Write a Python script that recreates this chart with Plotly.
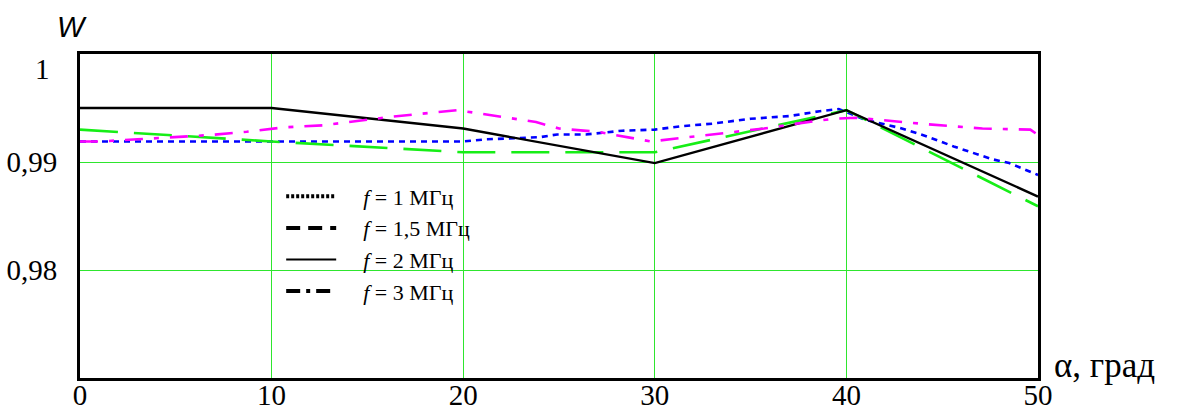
import plotly.graph_objects as go

# ---- data ----
alpha_f1 = [0, 10, 20, 21.2, 24, 24.9, 26.4, 28.3, 30, 31.3, 33, 35, 37, 38.6, 39.6, 41, 42.8, 44.2, 45.6, 47.6, 48.5, 50]
w_f1 = [0.9919, 0.9919, 0.9919, 0.9921, 0.9923, 0.99255, 0.99255, 0.9929, 0.9930, 0.9933, 0.99355, 0.9940, 0.99425, 0.9947, 0.9949,
        0.9939, 0.99315, 0.99237, 0.99144, 0.99026, 0.9899, 0.9888]

alpha_f15 = [0, 10, 20, 30, 40, 50]
w_f15 = [0.9930, 0.9919, 0.9909, 0.9909, 0.9948, 0.9859]

alpha_f2 = [0, 10, 20, 30, 40, 50]
w_f2 = [0.9950, 0.9950, 0.9931, 0.9899, 0.9948, 0.9868]

alpha_f3 = [0, 1, 3, 4.9, 6.8, 8.7, 10.6, 12.7, 14.6, 16.3, 19.7, 21.2, 23.8, 25, 27, 29.8, 33.6, 35.7, 37.6, 39.3,
            40.5, 42.2, 44.2, 47.1, 49.6, 50]
w_f3 = [0.9919, 0.9919, 0.9921, 0.9923, 0.9925, 0.9928, 0.9932, 0.9934, 0.9938, 0.9942, 0.9948, 0.9944, 0.9937, 0.9931,
        0.9928, 0.9919, 0.9927, 0.9931, 0.9936, 0.9940, 0.9941, 0.9938, 0.9935, 0.9931, 0.9930, 0.9925]

series_names = ["<i>f</i> = 1 МГц", "<i>f</i> = 1,5 МГц", "<i>f</i> = 2 МГц", "<i>f</i> = 3 МГц"]

x_ticks = [0, 10, 20, 30, 40, 50]
x_ticktext = ["0", "10", "20", "30", "40", "50"]
y_ticks = [0.98, 0.99]
y_ticktext = ["0,98", "0,99"]
y_top_label = "1"

SERIF = "Liberation Serif"
GRID = "#2ee62e"
PAD = "\u00a0\u00a0\u00a0\u00a0"

fig = go.Figure()

data_styles = [
    dict(color="#0000ff", width=2.6, dash="6px,5px"),
    dict(color="#16ee16", width=2.6, dash="38px,16px"),
    dict(color="#000000", width=2.4, dash="solid"),
    dict(color="#ff00ff", width=2.6, dash="18px,11px,5px,11px"),
]
xs = [alpha_f1, alpha_f15, alpha_f2, alpha_f3]
ys = [w_f1, w_f15, w_f2, w_f3]
for x, y, st in zip(xs, ys, data_styles):
    fig.add_trace(go.Scatter(x=x, y=y, mode="lines", line=st, showlegend=False, hoverinfo="skip"))

# legend entries (black samples as in the reference)
legend_styles = [
    dict(color="black", width=4, dash="3px,2px"),
    dict(color="black", width=4, dash="14px,8px"),
    dict(color="black", width=2, dash="solid"),
    dict(color="black", width=4, dash="14px,6px,4px,6px"),
]
for name, st in zip(series_names, legend_styles):
    fig.add_trace(go.Scatter(x=[None], y=[None], mode="lines", line=st, name=PAD + name, showlegend=True))

fig.update_layout(
    width=1180, height=414,
    margin=dict(l=80, r=142, t=54, b=36),
    paper_bgcolor="white", plot_bgcolor="white",
    font=dict(family=SERIF, color="black"),
    legend=dict(
        x=0.21, y=0.625, xanchor="left", yanchor="top",
        bgcolor="rgba(0,0,0,0)", borderwidth=0,
        font=dict(family=SERIF, size=22, color="black"),
        itemwidth=50,
    ),
    xaxis=dict(
        range=[0, 50], tickvals=x_ticks, ticktext=x_ticktext,
        showgrid=True, gridcolor=GRID, gridwidth=1,
        showline=True, linecolor="black", linewidth=3, mirror=True,
        ticks="", zeroline=False, automargin=False,
        tickfont=dict(family=SERIF, size=29, color="black"),
        ticklabelstandoff=-11,
    ),
    yaxis=dict(
        range=[0.97, 1.0], tickvals=y_ticks, ticktext=y_ticktext,
        showgrid=True, gridcolor=GRID, gridwidth=1,
        showline=True, linecolor="black", linewidth=3, mirror=True,
        ticks="", zeroline=False, automargin=False,
        tickfont=dict(family=SERIF, size=29, color="black"),
        ticklabelstandoff=14,
    ),
)

# top tick label "1" (sits slightly below the top frame in the reference)
fig.add_annotation(x=0, y=1.0, xref="paper", yref="y", text=y_top_label, showarrow=False,
                   xanchor="center", yanchor="middle", xshift=-38, yshift=-15,
                   font=dict(family=SERIF, size=29, color="black"))
# axis titles
fig.add_annotation(x=1, y=0, xref="paper", yref="paper", text="α, град", showarrow=False,
                   xanchor="left", yanchor="middle", xshift=14, yshift=13,
                   font=dict(family=SERIF, size=35, color="black"))
fig.add_annotation(x=0, y=1, xref="paper", yref="paper", text="<i>W</i>", showarrow=False,
                   xanchor="center", yanchor="middle", xshift=-8, yshift=27,
                   font=dict(family="Liberation Sans", size=29, color="black"))

fig.write_html("out.html", config={"displayModeBar": False},
               post_script="document.body.style.margin='0';")
